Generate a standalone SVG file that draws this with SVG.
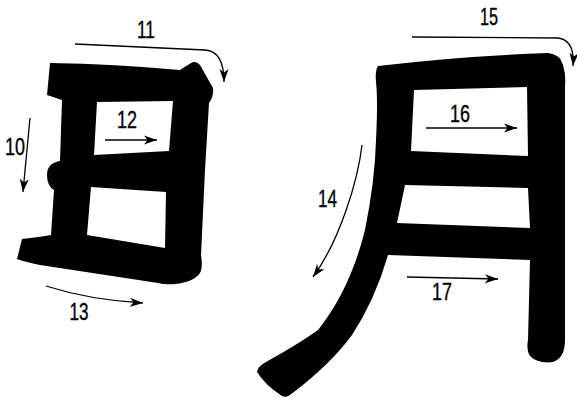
<svg xmlns="http://www.w3.org/2000/svg" width="577" height="398" viewBox="0 0 577 398">
<style>
.glyph{fill:#000;fill-rule:evenodd}
.arr{fill:none;stroke:#000;stroke-width:1.3;marker-end:url(#ah)}
.lbl{font-family:"Liberation Sans",Arial,sans-serif;font-size:23px;fill:#000;stroke:#000;stroke-width:0.35;text-anchor:middle}
</style>
<defs>
<marker id="ah" markerUnits="userSpaceOnUse" markerWidth="14" markerHeight="10" viewBox="0 0 14 10" refX="13" refY="5" orient="auto">
<path d="M0,0.5 L13,5 L0,9.5 L3.5,5 Z" fill="#000"/>
</marker>
</defs>
<rect width="577" height="398" fill="#fff"/>
<g id="char-left">
<path class="glyph" d="M50,63 Q115,64 180,70 L191,63 Q196,60 200,65 L213,88 Q214,96 209,103 L205,170 L201,255 Q203,268 200,273 Q194,282 175,284 Q165,285 158,283 L40,265 Q25,262 17,259 L22,239 Q40,237 51,235 L54,190 Q47,186 47,175 Q47,163 60,161 L62,100 L47,95 Z M97,102 L173,101 L169,151 L94,155 Z M91,187 L166,192 L165,248 L87,235 Z"/>
</g>
<g id="char-right">
<path class="glyph" d="M378,66 Q460,56 548,53 Q560,54 563,65 Q566,75 565,85 L565,340 Q565,358 553,362 Q538,364 530,356 Q526,350 528,340 L530,260 L388,255 Q375,300 352,335 Q330,365 290,395 Q286,398 282,396 Q265,385 257,372 Q258,366 266,362 Q300,343 318,330 Q350,290 365,230 Q375,180 376,140 Q378,100 376,82 Q375,70 378,66 Z M414,90 L527,87 L528,156 L411,151 Z M405,185 L528,188 L530,228 L397,223 Z"/>
</g>
<g id="connectors">
<path class="arr" d="M30,118 L23,192"/>
<path class="arr" d="M75,44 L205,50 Q224,51 224,82"/>
<path class="arr" d="M105,140 L157,140"/>
<path class="arr" d="M46,286 Q90,300 143,303"/>
<path class="arr" d="M362,145 C358,180 340,240 313,277"/>
<path class="arr" d="M412,37 L558,38 Q575,40 573,66"/>
<path class="arr" d="M426,128 L517,128"/>
<path class="arr" d="M407,277 L498,279"/>
</g>
<g id="labels">
<text class="lbl" x="15" y="155" textLength="20" lengthAdjust="spacingAndGlyphs">10</text>
<text class="lbl" x="146" y="38" textLength="18" lengthAdjust="spacingAndGlyphs">11</text>
<text class="lbl" x="127" y="128" textLength="20" lengthAdjust="spacingAndGlyphs">12</text>
<text class="lbl" x="79" y="320" textLength="19" lengthAdjust="spacingAndGlyphs">13</text>
<text class="lbl" x="327.5" y="207" textLength="19" lengthAdjust="spacingAndGlyphs">14</text>
<text class="lbl" x="489" y="25" textLength="18" lengthAdjust="spacingAndGlyphs">15</text>
<text class="lbl" x="460" y="122" textLength="20" lengthAdjust="spacingAndGlyphs">16</text>
<text class="lbl" x="442" y="300" textLength="20" lengthAdjust="spacingAndGlyphs">17</text>
</g>
</svg>
